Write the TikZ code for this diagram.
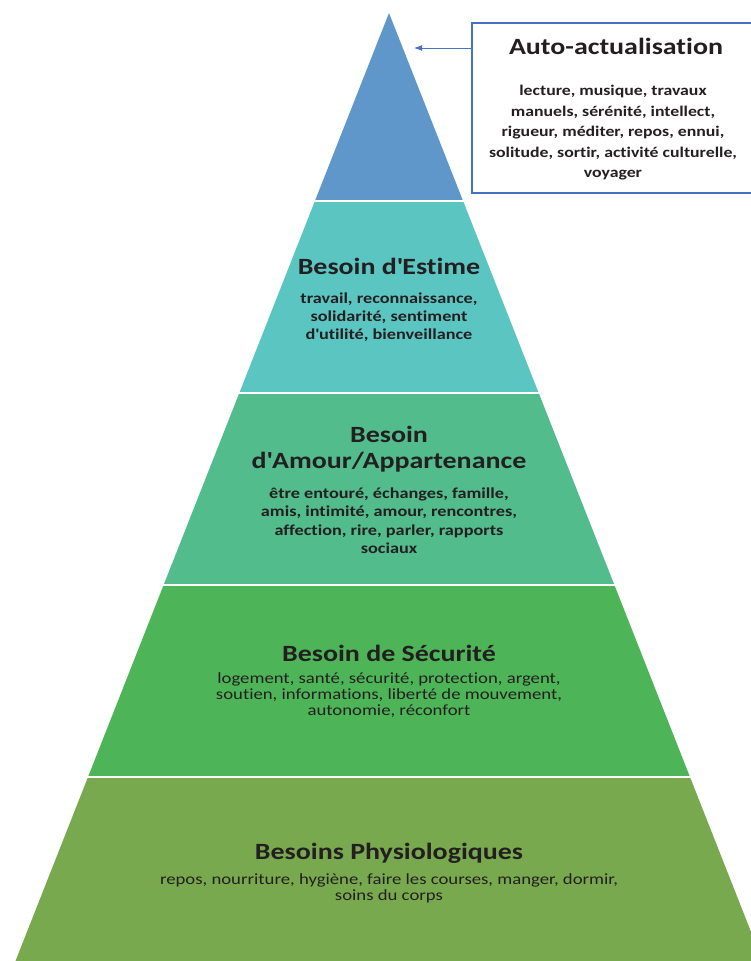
\documentclass[tikz,border=0pt]{standalone}
\usepackage{fontspec}
\setmainfont{Carlito}[Ligatures={NoCommon}, FakeStretch=1.2]
\usetikzlibrary{arrows.meta}
\definecolor{lvlA}{HTML}{5F97CB}
\definecolor{lvlB}{HTML}{5BC5C2}
\definecolor{lvlC}{HTML}{52BC8C}
\definecolor{lvlD}{HTML}{4EB458}
\definecolor{lvlE}{HTML}{78A94F}
\definecolor{boxblue}{HTML}{4472C4}
\definecolor{txt}{HTML}{231F20}
\newcommand{\apo}{\textquotesingle}
\tikzset{
  ttl/.style={text=txt, inner sep=0pt, align=center, font=\fontsize{23.3}{26}\bfseries\selectfont},
  bodyb/.style={text=txt, inner sep=0pt, align=center, font=\fontsize{15.2}{18.5}\bfseries\selectfont},
  bodyr/.style={text=txt, inner sep=0pt, align=center, font=\fontsize{15.6}{16.4}\selectfont},
  sep/.style={white, line width=2.5pt},
  arr/.style={boxblue, line width=0.9pt, -{Latex[length=8pt,width=6pt]}}
}
\begin{document}
\begin{tikzpicture}[x=1pt,y=-1pt]
\useasboundingbox (0,0) rectangle (751,961);
\fill[white] (0,0) rectangle (751,961);
\clip (0,0) rectangle (751,961);
% pyramid layers
\fill[lvlA] (389,13) -- (463.1,201) -- (314.9,201) -- cycle;
\fill[lvlB] (314.9,201) -- (463.1,201) -- (538.7,393) -- (239.3,393) -- cycle;
\fill[lvlC] (239.3,393) -- (538.7,393) -- (614.4,585) -- (163.6,585) -- cycle;
\fill[lvlD] (163.6,585) -- (614.4,585) -- (690.0,777) -- (88.0,777) -- cycle;
\fill[lvlE] (88.0,777) -- (690.0,777) -- (762.5,961) -- (15.5,961) -- cycle;
\draw[sep] (0,201) -- (751,201);
\draw[sep] (0,393) -- (751,393);
\draw[sep] (0,585) -- (751,585);
\draw[sep] (0,777) -- (751,777);
% box
\node[draw=boxblue, line width=1.3pt, minimum width=283pt, minimum height=170pt, inner sep=0pt] (aa) at (613.5,108) {};
\node[ttl] (aat) at (616,46) {Auto-actualisation};
\node[bodyb, font=\fontsize{14.8}{20.5}\bfseries\selectfont] (aab) at (613,133) {lecture, musique, travaux\\manuels, sérénité, intellect,\\rigueur, méditer, repos, ennui,\\solitude, sortir, activité culturelle,\\voyager};
\coordinate (tip) at (414,48);
\draw[arr] (aa.west |- tip) -- (tip);
% layer texts
\node[ttl] (est) at (389,266) {Besoin d\apo Estime};
\node[bodyb, font=\fontsize{15.2}{18}\bfseries\selectfont] (estb) at (389,317) {travail, reconnaissance,\\solidarité, sentiment\\d\apo utilité, bienveillance};
\node[ttl] (amo) at (389,449) {Besoin\\d\apo Amour/Appartenance};
\node[bodyb] (amob) at (389,520.5) {être entouré, échanges, famille,\\amis, intimité, amour, rencontres,\\affection, rire, parler, rapports\\sociaux};
\node[ttl] (sec) at (389,653) {Besoin de Sécurité};
\node[bodyr] (secb) at (389,695) {logement, santé, sécurité, protection, argent,\\soutien, informations, liberté de mouvement,\\autonomie, réconfort};
\node[ttl] (phy) at (389,853) {Besoins Physiologiques};
\node[bodyr, font=\fontsize{15.6}{15.8}\selectfont] (phyb) at (389,888.5) {repos, nourriture, hygiène, faire les courses, manger, dormir,\\soins du corps};
\end{tikzpicture}
\end{document}
